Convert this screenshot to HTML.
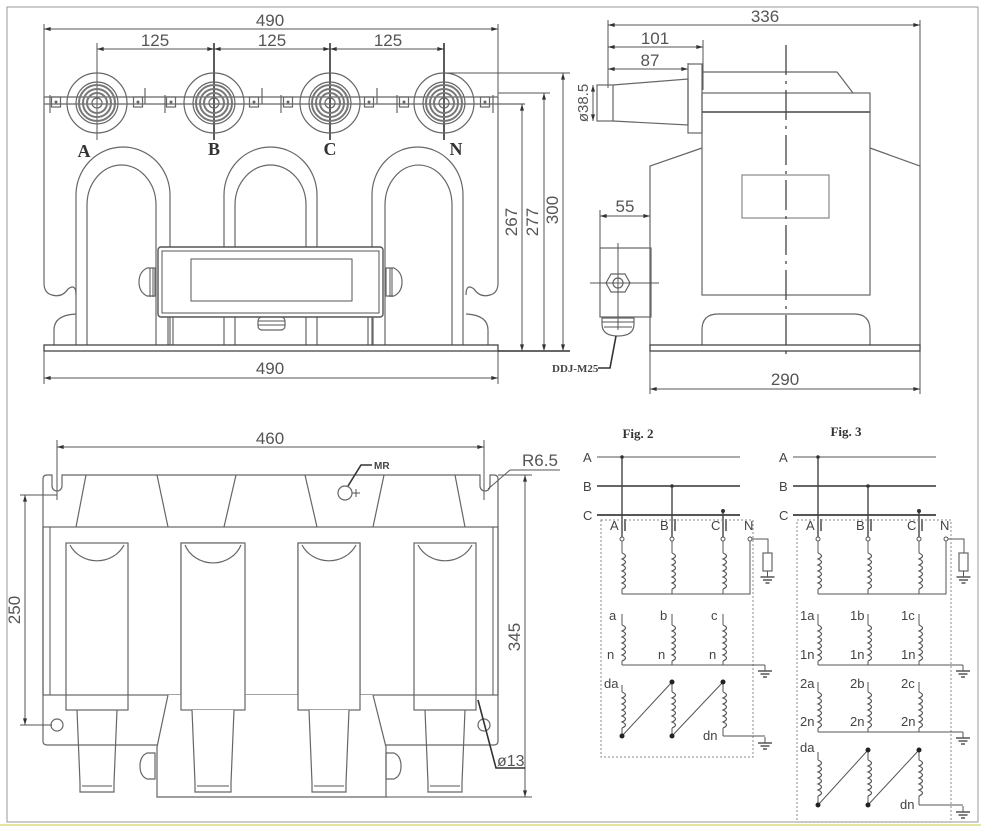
<!DOCTYPE html>
<html><head><meta charset="utf-8"><style>
html,body{margin:0;padding:0;background:#fff;}
svg{display:block;font-family:"Liberation Sans",sans-serif;}
.l{stroke:#666;stroke-width:1.2;fill:none}
.d{stroke:#555;stroke-width:1;fill:none}
.k{stroke:#333;stroke-width:1.6;fill:none}
.t{fill:#555;font-size:17px;text-anchor:middle}
.s{fill:#444;font-size:13px}
.b{fill:#333;font-family:"Liberation Serif",serif;font-weight:bold;font-size:18px;text-anchor:middle}
</style></head><body>
<svg width="981" height="828" viewBox="0 0 981 828" xmlns="http://www.w3.org/2000/svg">
<defs>
<marker id="a" viewBox="0 0 10 6" refX="10" refY="3" markerWidth="10" markerHeight="4" orient="auto-start-reverse"><path d="M0 0L10 3L0 6z" fill="#333"/></marker>
<path id="coil" d="M0 0 q7 3 0 6 q7 3 0 6 q7 3 0 6 q7 3 0 6 q7 3 0 6 q7 3 0 6" fill="none" stroke="#555" stroke-width="1.2"/>
<g id="gnd"><line x1="0" y1="0" x2="0" y2="6" stroke="#555"/><line x1="-7" y1="6" x2="7" y2="6" stroke="#555" stroke-width="1.5"/><line x1="-4.5" y1="9" x2="4.5" y2="9" stroke="#555" stroke-width="1.5"/><line x1="-2" y1="12" x2="2" y2="12" stroke="#555" stroke-width="1.5"/></g>
<g id="bush"><circle r="30" class="l"/><circle r="21" class="l"/><circle r="18" stroke="#777" stroke-width="2" fill="none"/><circle r="14" stroke="#777" stroke-width="2" fill="none"/><circle r="10" stroke="#777" stroke-width="2" fill="none"/><circle r="5" class="l"/></g>
<g id="sq"><rect x="-4.5" y="-5" width="9" height="10" class="l"/><circle r="1.5" fill="#666"/></g>
<g id="leg"><rect x="0" y="0" width="62" height="167" class="l"/><path d="M4 2 A30 28 0 0 0 58 2" class="l"/><path d="M11 167 L14 240 L14 249 L48 249 L48 240 L51 167" class="l"/><line x1="16" y1="243" x2="46" y2="243" class="d"/></g>
</defs>
<rect x="7" y="7" width="971" height="815" fill="none" stroke="#999"/>
<line x1="0" y1="825" x2="981" y2="825" stroke="#e4e6a0" stroke-width="2"/>

<!-- FRONT VIEW -->
<g>
<line x1="44" y1="24" x2="44" y2="110" class="d"/><line x1="498" y1="24" x2="498" y2="110" class="d"/>
<line x1="44" y1="29" x2="498" y2="29" class="d" marker-start="url(#a)" marker-end="url(#a)"/>
<text x="270" y="26" class="t">490</text>
<line x1="97" y1="49" x2="214" y2="49" class="d" marker-start="url(#a)" marker-end="url(#a)"/>
<line x1="214" y1="49" x2="330" y2="49" class="d" marker-start="url(#a)" marker-end="url(#a)"/>
<line x1="330" y1="49" x2="444" y2="49" class="d" marker-start="url(#a)" marker-end="url(#a)"/>
<text x="155" y="46" class="t">125</text><text x="272" y="46" class="t">125</text><text x="388" y="46" class="t">125</text>
<line x1="97" y1="43" x2="97" y2="140" class="d"/><line x1="214" y1="43" x2="214" y2="140" class="k"/><line x1="330" y1="43" x2="330" y2="140" class="k"/><line x1="444" y1="43" x2="444" y2="140" class="k"/>
<line x1="44" y1="97" x2="498" y2="97" class="l"/><line x1="44" y1="104" x2="525" y2="104" class="l"/>
<use href="#bush" x="97" y="103"/><use href="#bush" x="214" y="103"/><use href="#bush" x="330" y="103"/><use href="#bush" x="444" y="103"/>
<use href="#sq" x="56" y="102"/><use href="#sq" x="138" y="102"/><use href="#sq" x="171" y="102"/><use href="#sq" x="254" y="102"/><use href="#sq" x="288" y="102"/><use href="#sq" x="369" y="102"/><use href="#sq" x="404" y="102"/><use href="#sq" x="485" y="102"/>
<path d="M50 95v18M145 88v16M165 95v18M262 88v16M281 95v18M377 88v16M397 95v18M493 95v18" class="l"/>
<text x="84" y="157" class="b">A</text><text x="214" y="155" class="b">B</text><text x="330" y="155" class="b">C</text><text x="456" y="155" class="b">N</text>
<!-- body outline -->
<path d="M44 97 V283 q0 10 8 12 q10 3 16 -6 q8 -6 8 6" class="l"/>
<path d="M498 97 V283 q0 10 -8 12 q-10 3 -16 -6 q-8 -6 -8 6" class="l"/>
<path d="M54 345 V330 q0 -15 22 -16" class="l"/><path d="M488 345 V330 q0 -15 -22 -16" class="l"/>
<!-- arches -->
<path d="M76 345 V195 A47 48 0 0 1 170 195 V345" class="l"/><path d="M87 345 V205 A34.5 40 0 0 1 156 205 V345" class="l"/>
<path d="M224 345 V195 A46.5 48 0 0 1 317 195 V345" class="l"/><path d="M235 345 V205 A35.5 40 0 0 1 306 205 V345" class="l"/>
<path d="M372 345 V195 A45.5 48 0 0 1 463 195 V345" class="l"/><path d="M385 345 V205 A33.5 40 0 0 1 452 205 V345" class="l"/>
<!-- box -->
<rect x="158" y="247" width="225" height="70" rx="3" fill="#fff" stroke="#555" stroke-width="1.4"/>
<rect x="162" y="251" width="217" height="62" class="d"/>
<rect x="191" y="259" width="161" height="42" class="d"/>
<path d="M155 268 h-8 q-8 4 -8 14 q0 10 8 14 h8z" class="l"/><path d="M150 268v29M153 268v29" class="d"/>
<path d="M386 268 h8 q8 4 8 14 q0 10 -8 14 h-8z" class="l"/><path d="M390 268v29M392 268v29" class="d"/>
<rect x="258" y="317" width="27" height="13" rx="4" class="l"/><path d="M258 321h27M258 325h27" class="d"/>
<path d="M168 317v28M173 317v28M368 317v28M373 317v28" class="l"/>
<rect x="44" y="345" width="454" height="6" fill="#fff" stroke="#444" stroke-width="1.3"/>
<line x1="44" y1="351" x2="44" y2="384" class="d"/><line x1="498" y1="351" x2="498" y2="384" class="d"/>
<line x1="44" y1="378" x2="498" y2="378" class="d" marker-start="url(#a)" marker-end="url(#a)"/>
<text x="270" y="374" class="t">490</text>
<!-- height dims -->
<line x1="444" y1="73" x2="570" y2="73" class="d"/><line x1="498" y1="93" x2="550" y2="93" class="d"/>
<line x1="498" y1="351" x2="570" y2="351" class="k"/>
<line x1="522" y1="104" x2="522" y2="351" class="d" marker-start="url(#a)" marker-end="url(#a)"/>
<line x1="544" y1="93" x2="544" y2="351" class="d" marker-start="url(#a)" marker-end="url(#a)"/>
<line x1="563" y1="73" x2="563" y2="351" class="d" marker-start="url(#a)" marker-end="url(#a)"/>
<text transform="translate(517,222) rotate(-90)" class="t">267</text>
<text transform="translate(538,222) rotate(-90)" class="t">277</text>
<text transform="translate(558,210) rotate(-90)" class="t">300</text>
</g>

<!-- SIDE VIEW -->
<g>
<line x1="608" y1="20" x2="608" y2="88" class="d"/><line x1="920" y1="20" x2="920" y2="168" class="d"/>
<line x1="703" y1="40" x2="703" y2="90" class="d"/><line x1="688" y1="63" x2="688" y2="66" class="d"/>
<line x1="608" y1="25" x2="920" y2="25" class="d" marker-start="url(#a)" marker-end="url(#a)"/>
<line x1="608" y1="47" x2="703" y2="47" class="d" marker-start="url(#a)" marker-end="url(#a)"/>
<line x1="608" y1="69" x2="688" y2="69" class="d" marker-start="url(#a)" marker-end="url(#a)"/>
<text x="765" y="22" class="t">336</text><text x="655" y="44" class="t">101</text><text x="650" y="66" class="t">87</text>
<rect x="597" y="85" width="16" height="36" class="l"/>
<path d="M613 85 L688 79 V125 L613 121" class="l"/>
<rect x="688" y="64" width="14" height="69" class="l"/>
<line x1="593" y1="85" x2="593" y2="121" class="d" marker-start="url(#a)" marker-end="url(#a)"/>
<text transform="translate(588,103) rotate(-90)" class="t" style="font-size:15px">ø38.5</text>
<path d="M702 72 H837 L853 93" class="l"/>
<rect x="702" y="93" width="168" height="19" class="l"/><line x1="702" y1="112" x2="870" y2="112" class="k"/>
<rect x="702" y="112" width="168" height="183" class="l"/>
<rect x="742" y="175" width="87" height="43" stroke="#888" stroke-width="1.2" fill="none"/>
<path d="M702 148 L650 166 V345 M870 148 L920 166 V345" class="l"/>
<path d="M702 345 V330 q0 -16 16 -16 H854 q16 0 16 16 V345" class="l"/>
<rect x="650" y="345" width="270" height="6" fill="#fff" stroke="#444" stroke-width="1.3"/>
<line x1="786" y1="45" x2="786" y2="360" stroke="#444" stroke-width="1.3" stroke-dasharray="30 6 3 6"/>
<line x1="650" y1="351" x2="650" y2="394" class="d"/><line x1="920" y1="351" x2="920" y2="394" class="d"/>
<line x1="650" y1="389" x2="920" y2="389" class="d" marker-start="url(#a)" marker-end="url(#a)"/>
<text x="785" y="385" class="t">290</text>
<rect x="600" y="248" width="51" height="69" class="l"/>
<line x1="600" y1="210" x2="600" y2="248" class="d"/>
<line x1="600" y1="216" x2="650" y2="216" class="d" marker-start="url(#a)" marker-end="url(#a)"/>
<text x="625" y="212" class="t">55</text>
<polygon points="611,274 625,274 630,283 625,292 611,292 606,283" class="l"/><circle cx="618" cy="283" r="5" class="l"/>
<path d="M590 283H659M618 243V330" class="d"/>
<path d="M602 318 h32 v6 q0 12 -16 12 q-16 0 -16 -12z" class="l"/><path d="M602 322h32M604 327h28" class="d"/>
<path d="M616 336 L610 368 H598" class="k"/>
<text x="552" y="372" class="s" style="font-family:'Liberation Serif',serif;font-weight:bold;font-size:11px">DDJ-M25</text>
</g>

<!-- BOTTOM VIEW -->
<g>
<line x1="57" y1="440" x2="57" y2="500" class="d"/><line x1="484" y1="440" x2="484" y2="500" class="d"/>
<line x1="57" y1="447" x2="484" y2="447" class="d" marker-start="url(#a)" marker-end="url(#a)"/>
<text x="270" y="444" class="t">460</text>
<path d="M47 475 H52 V486 a5 5 0 0 0 10 0 V475 H480 V486 a5 5 0 0 0 10 0 V475 H494 q4 0 4 4 V741 q0 4 -4 4 H47 q-4 0 -4 -4 V479 q0 -4 4 -4z" class="l"/>
<path d="M86 475 L76 527 M157 475 L168 527 M236 475 L224 527 M305 475 L317 527 M384 475 L373 527 M455 475 L465 527" class="l"/>
<rect x="43" y="527" width="455" height="168" class="l"/>
<path d="M50 527V695M493 527V695" class="d"/>
<use href="#leg" x="66" y="543"/><use href="#leg" x="181" y="543"/><use href="#leg" x="298" y="543"/><use href="#leg" x="414" y="543"/>
<path d="M168 695 L157 747 V797 H386 V747 L373 695" fill="#fff" stroke="#666" stroke-width="1.2"/>
<rect x="181" y="543" width="64" height="167" fill="#fff" stroke="#666" stroke-width="1.2"/><path d="M185 545 A30 28 0 0 0 241 545" class="l"/>
<path d="M192 710 L195 783 V792 H231 V783 L234 710" fill="#fff" stroke="#666" stroke-width="1.2"/><line x1="197" y1="786" x2="229" y2="786" class="d"/>
<rect x="298" y="543" width="62" height="167" fill="#fff" stroke="#666" stroke-width="1.2"/><path d="M302 545 A30 28 0 0 0 356 545" class="l"/>
<path d="M309 710 L312 783 V792 H346 V783 L349 710" fill="#fff" stroke="#666" stroke-width="1.2"/><line x1="314" y1="786" x2="344" y2="786" class="d"/>
<path d="M155 753 h-8 q-7 3 -7 13 q0 10 7 13 h8z" class="l"/><path d="M386 753 h8 q7 3 7 13 q0 10 -7 13 h-8z" class="l"/>
<circle cx="57" cy="725" r="6" class="l"/><circle cx="484" cy="725" r="6" class="l"/>
<circle cx="345" cy="493" r="7" class="l"/><path d="M352 493h8M356 489v8" class="d"/>
<path d="M348 486 L361 465 H372" class="k"/><text x="374" y="469" class="s" style="font-size:10px;font-weight:bold">MR</text>
<line x1="20" y1="495" x2="57" y2="495" class="d"/><line x1="20" y1="725" x2="52" y2="725" class="d"/>
<line x1="25" y1="495" x2="25" y2="725" class="d" marker-start="url(#a)" marker-end="url(#a)"/>
<text transform="translate(20,610) rotate(-90)" class="t">250</text>
<line x1="498" y1="475" x2="532" y2="475" class="d"/><line x1="386" y1="797" x2="532" y2="797" class="d"/>
<line x1="525" y1="475" x2="525" y2="797" class="d" marker-start="url(#a)" marker-end="url(#a)"/>
<text transform="translate(520,637) rotate(-90)" class="t">345</text>
<path d="M488 489 L510 470 H560" class="d"/><text x="522" y="466" class="t" style="text-anchor:start">R6.5</text>
<path d="M478 700 L496 768 H525" class="k"/><text x="497" y="766" class="t" style="text-anchor:start;font-size:16px">ø13</text>
</g>

<!-- FIG 2 / FIG 3 -->
<g>
<text x="638" y="438" class="b" style="font-size:13px">Fig. 2</text>
<text x="846" y="436" class="b" style="font-size:13px">Fig. 3</text>
<g id="fig2">
<text x="583" y="462" class="s">A</text><text x="583" y="491" class="s">B</text><text x="583" y="520" class="s">C</text>
<line x1="597" y1="457" x2="740" y2="457" class="d"/>
<line x1="597" y1="486" x2="740" y2="486" stroke="#333" stroke-width="1.6"/>
<line x1="597" y1="515" x2="740" y2="515" stroke="#555" stroke-width="2"/>
<path d="M622 457V538M672 486V538M723 511V538" stroke="#444" stroke-width="1.4" fill="none"/>
<circle cx="622" cy="457" r="1.8" fill="#333"/><circle cx="672" cy="486" r="1.8" fill="#333"/><circle cx="723" cy="511" r="2" fill="#333"/>
<text x="610" y="530" class="s">A</text><text x="660" y="530" class="s">B</text><text x="711" y="530" class="s">C</text><text x="744" y="530" class="s">N</text>
<path d="M625 519v12M675 519v12M726 519v12" stroke="#777" stroke-width="2"/>
<use href="#coil" x="622" y="553"/><use href="#coil" x="672" y="553"/><use href="#coil" x="723" y="553"/>
<path d="M622 540V553M622 589V594M672 540V553M672 589V594M723 540V553M723 589V594M622 594H750V539M750 539H768V553" class="d"/>
<rect x="763" y="553" width="9" height="18" class="l"/><use href="#gnd" x="767.5" y="571"/>
<circle cx="622" cy="539" r="2" fill="#fff" stroke="#555"/><circle cx="672" cy="539" r="2" fill="#fff" stroke="#555"/><circle cx="723" cy="539" r="2" fill="#fff" stroke="#555"/><circle cx="750" cy="539" r="2" fill="#fff" stroke="#555"/>
</g>
<!-- fig2 lower -->
<rect x="601" y="520" width="152" height="237" fill="none" stroke="#888" stroke-dasharray="2 2"/>
<text x="609" y="620" class="s">a</text><text x="660" y="620" class="s">b</text><text x="711" y="620" class="s">c</text>
<text x="607" y="659" class="s">n</text><text x="658" y="659" class="s">n</text><text x="709" y="659" class="s">n</text>
<use href="#coil" x="622" y="625"/><use href="#coil" x="672" y="625"/><use href="#coil" x="723" y="625"/>
<path d="M622 614V625M622 661V665M672 614V625M672 661V665M723 614V625M723 661V665M622 665H765" class="d"/>
<use href="#gnd" x="765" y="665"/>
<text x="604" y="688" class="s">da</text><text x="703" y="740" class="s">dn</text>
<use href="#coil" x="622" y="692"/><use href="#coil" x="672" y="692"/><use href="#coil" x="723" y="692"/>
<path d="M622 685V692M622 728V736M672 682V692M672 728V736M723 682V692M723 728V736M622 736L672 682M672 736L723 682M723 736H765" class="d"/>
<circle cx="622" cy="736" r="2.5" fill="#222"/><circle cx="672" cy="682" r="2.5" fill="#222"/><circle cx="672" cy="736" r="2.5" fill="#222"/><circle cx="723" cy="682" r="2.5" fill="#222"/>
<use href="#gnd" x="765" y="737"/>
<!-- fig3 -->
<use href="#fig2" x="196" y="0"/>
<rect x="797" y="520" width="154" height="302" fill="none" stroke="#888" stroke-dasharray="2 2"/>
<text x="800" y="620" class="s">1a</text><text x="850" y="620" class="s">1b</text><text x="901" y="620" class="s">1c</text>
<text x="800" y="659" class="s">1n</text><text x="850" y="659" class="s">1n</text><text x="901" y="659" class="s">1n</text>
<use href="#coil" x="818" y="625"/><use href="#coil" x="868" y="625"/><use href="#coil" x="919" y="625"/>
<path d="M818 614V625M818 661V665M868 614V625M868 661V665M919 614V625M919 661V665M818 665H963" class="d"/>
<use href="#gnd" x="963" y="665"/>
<text x="800" y="688" class="s">2a</text><text x="850" y="688" class="s">2b</text><text x="901" y="688" class="s">2c</text>
<text x="800" y="726" class="s">2n</text><text x="850" y="726" class="s">2n</text><text x="901" y="726" class="s">2n</text>
<use href="#coil" x="818" y="692"/><use href="#coil" x="868" y="692"/><use href="#coil" x="919" y="692"/>
<path d="M818 682V692M818 728V732M868 682V692M868 728V732M919 682V692M919 728V732M818 732H963" class="d"/>
<use href="#gnd" x="963" y="732"/>
<text x="800" y="752" class="s">da</text><text x="900" y="809" class="s">dn</text>
<use href="#coil" x="818" y="760"/><use href="#coil" x="868" y="760"/><use href="#coil" x="919" y="760"/>
<path d="M818 752V760M818 796V805M868 750V760M868 796V805M919 750V760M919 796V805M818 805L868 750M868 805L919 750M919 805H963" class="d"/>
<circle cx="818" cy="805" r="2.5" fill="#222"/><circle cx="868" cy="750" r="2.5" fill="#222"/><circle cx="868" cy="805" r="2.5" fill="#222"/><circle cx="919" cy="750" r="2.5" fill="#222"/>
<use href="#gnd" x="963" y="806"/>
</g>
</svg>
</body></html>
